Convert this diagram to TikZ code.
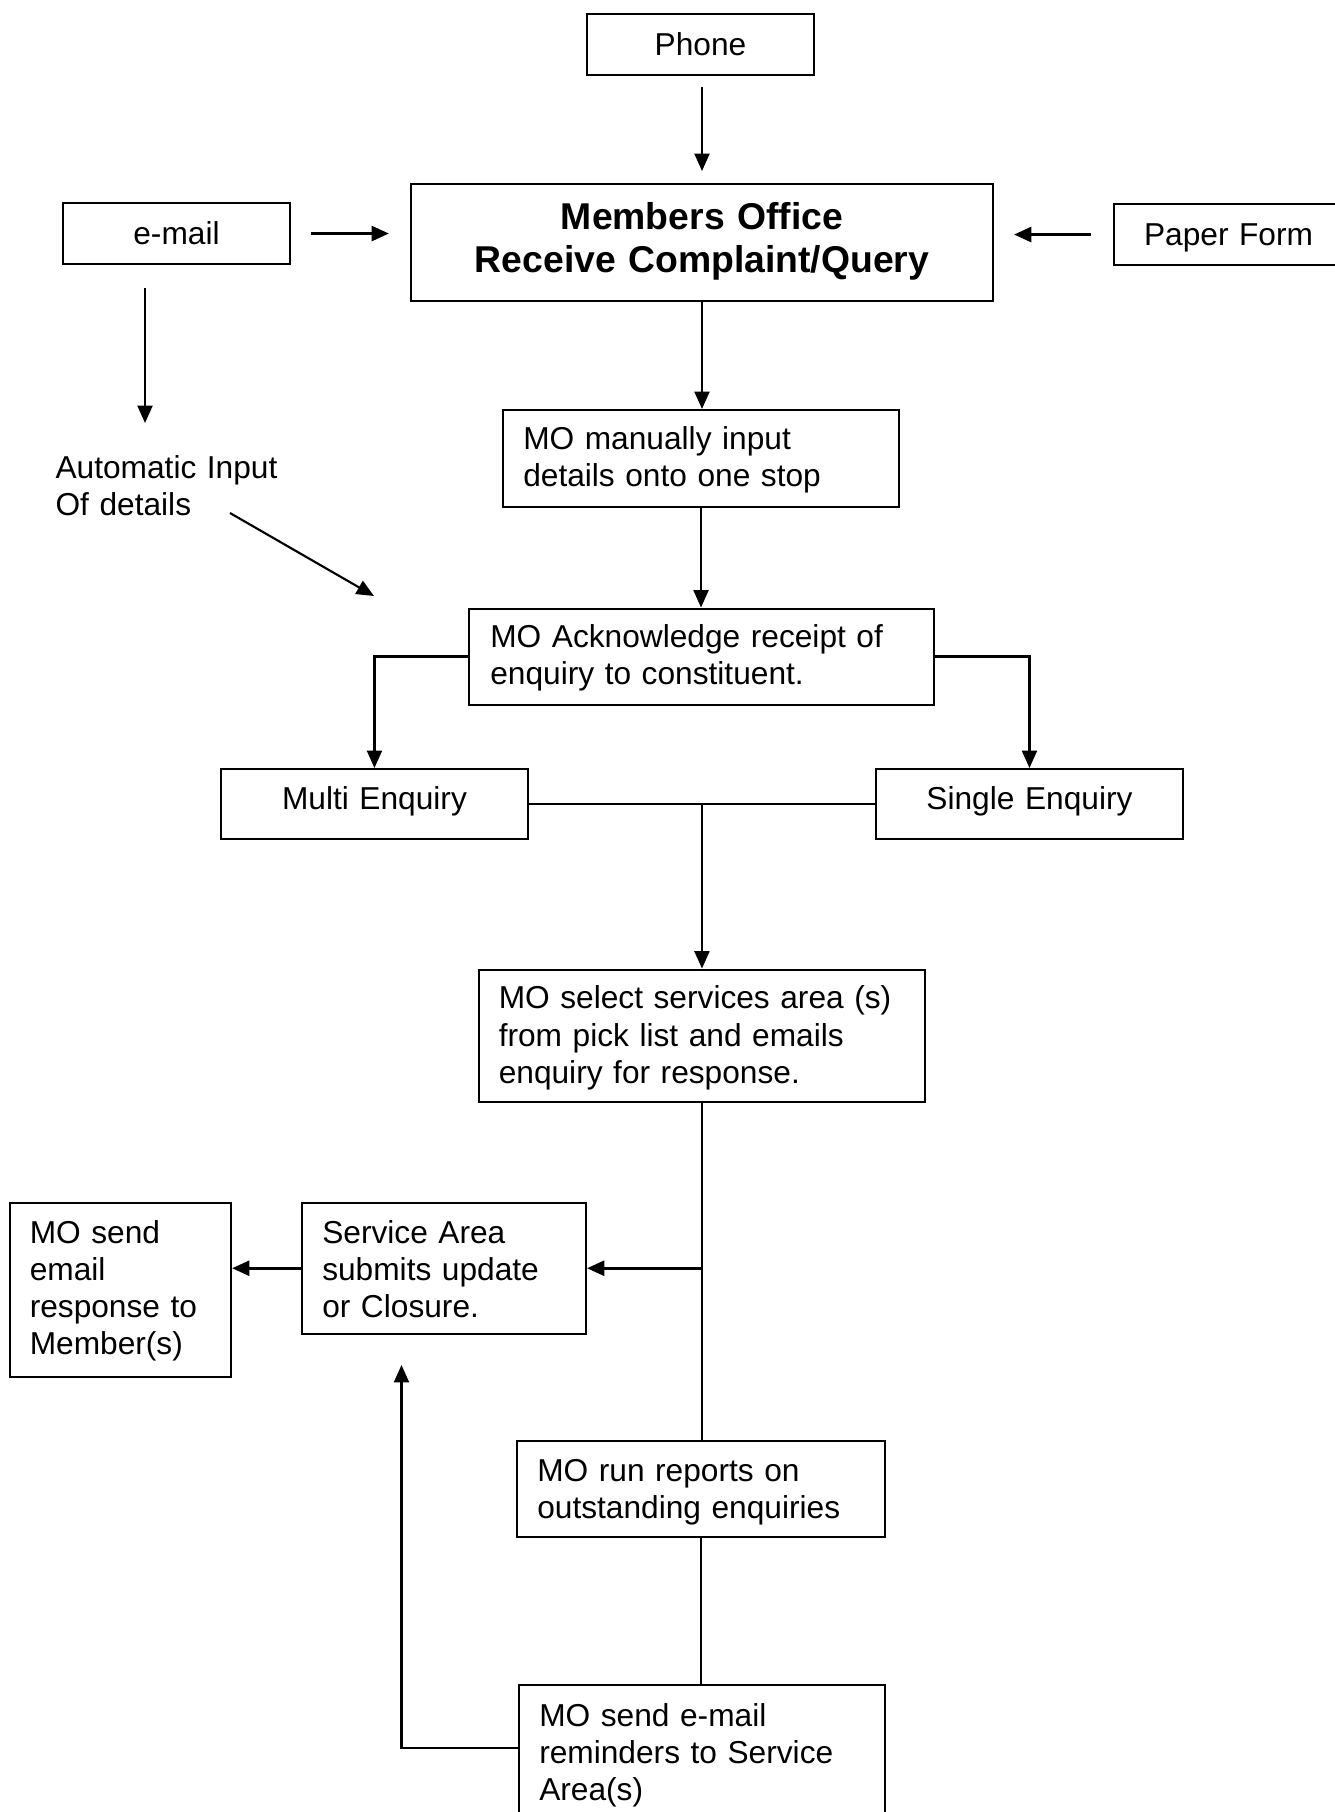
\documentclass[tikz,border=0pt]{standalone}
\usepackage{fontspec}
\setmainfont{Liberation Sans}
\usetikzlibrary{arrows.meta,calc}
\begin{document}
\begin{tikzpicture}[x=0.375pt,y=-0.375pt,
  box/.style={draw, line width=0.75pt, rectangle, anchor=north west, inner ysep=0pt, font=\fontsize{11.88}{13.9}\selectfont},
  lbox/.style={box, align=left, inner xsep=7.6pt},
  cbox/.style={box, align=center, inner xsep=0pt},
  arr/.style={line width=0.8pt, -{Triangle[length=6.5pt,width=5.6pt]}},
  conn/.style={line width=0.8pt}]
\useasboundingbox (0,0) rectangle (1335,1812);

% boxes
\node[cbox, text width=85.1pt, text height=15.75pt, text depth=7.125pt] (phone) at (586,13) {Phone};
\node[cbox, text width=218.25pt, text height=17.06pt, text depth=26.8pt, font=\fontsize{14}{16.3}\selectfont\bfseries] (mo) at (410,183) {Members Office\\Receive Complaint/Query};
\node[cbox, text width=85.1pt, text height=15.4pt, text depth=7.5pt] (email) at (62,202) {e-mail};
\node[cbox, text width=85.9pt, text height=15.4pt, text depth=7.5pt] (paper) at (1113,203) {Paper Form};
\node[lbox, text width=133.3pt, text height=14.8pt, text depth=21.56pt] (manual) at (502,409) {MO manually input\\details onto one stop};
\node[lbox, inner xsep=8pt, text width=158.4pt, text height=14.44pt, text depth=21.56pt] (ack) at (468,607.5) {MO Acknowledge receipt of\\enquiry to constituent.};
\node[cbox, text width=115.1pt, text height=15pt, text depth=11.25pt] (multi) at (220,768) {Multi Enquiry};
\node[cbox, text width=115.1pt, text height=15pt, text depth=11.25pt] (single) at (875,768) {Single Enquiry};
\node[lbox, text width=152.4pt, text height=14.8pt, text depth=34.7pt] (select) at (477.5,968.5) {MO select services area (s)\\from pick list and emails\\enquiry for response.};
\node[lbox, text width=91.3pt, text height=15.2pt, text depth=34.1pt] (service) at (301,1201.5) {Service Area\\submits update\\or Closure.};
\node[lbox, text width=67.9pt, text height=15.2pt, text depth=50.25pt] (mosend) at (8.5,1201.5) {MO send\\email\\response to\\Member(s)};
\node[lbox, text width=122.8pt, text height=15pt, text depth=21pt] (run) at (516,1440) {MO run reports on\\outstanding enquiries};
\node[lbox, text width=122pt, text height=15.4pt, text depth=39.4pt] (remind) at (518,1684) {MO send e-mail\\reminders to Service\\Area(s)};
\node[anchor=base west, inner sep=0pt, text width=100pt, align=left, font=\fontsize{11.88}{13.9}\selectfont] (auto) at (55,478.5) {Automatic Input\\Of details};

% connectors
\draw[arr, shorten <=4.1pt, shorten >=4.5pt] (mo.north |- phone.south) -- (mo.north);
\draw[arr, line width=1.1pt, shorten <=7.5pt, shorten >=7.9pt] (email.east) -- (email.east -| mo.west);
\draw[arr, line width=1.1pt, shorten <=8.25pt, shorten >=7.5pt] (paper.west) -- (paper.west -| mo.east);
\coordinate (ed) at (145,423);
\draw[arr, shorten <=8.6pt] (email.south -| ed) -- (ed);
\coordinate (d1) at (230,513);
\coordinate (d2) at (374,596);
\draw[arr] (d1) -- (d2);
\draw[arr] (mo.south) -- (mo.south |- manual.north);
\draw[arr] (manual.south) -- (manual.south |- ack.north);
\draw[arr] (ack.west) -| (multi.north);
\draw[arr] (ack.east) -| (single.north);
\draw[conn] (multi.east) -- (single.west);
\coordinate (jn) at (select.north |- multi.east);
\draw[arr] (jn) -- (select.north);
\draw[conn] (select.south) -- (select.south |- run.north);
\draw[arr, line width=1.1pt] (select.south |- service.east) -- (service.east);
\draw[arr, line width=1.1pt] (service.west) -- (service.west -| mosend.east);
\draw[conn] (run.south) -- (run.south |- remind.north);
\coordinate (fb) at (401.5,1748);
\draw[arr, shorten >=11.25pt] (remind.west |- fb) -| (service.south -| fb);
\end{tikzpicture}
\end{document}
